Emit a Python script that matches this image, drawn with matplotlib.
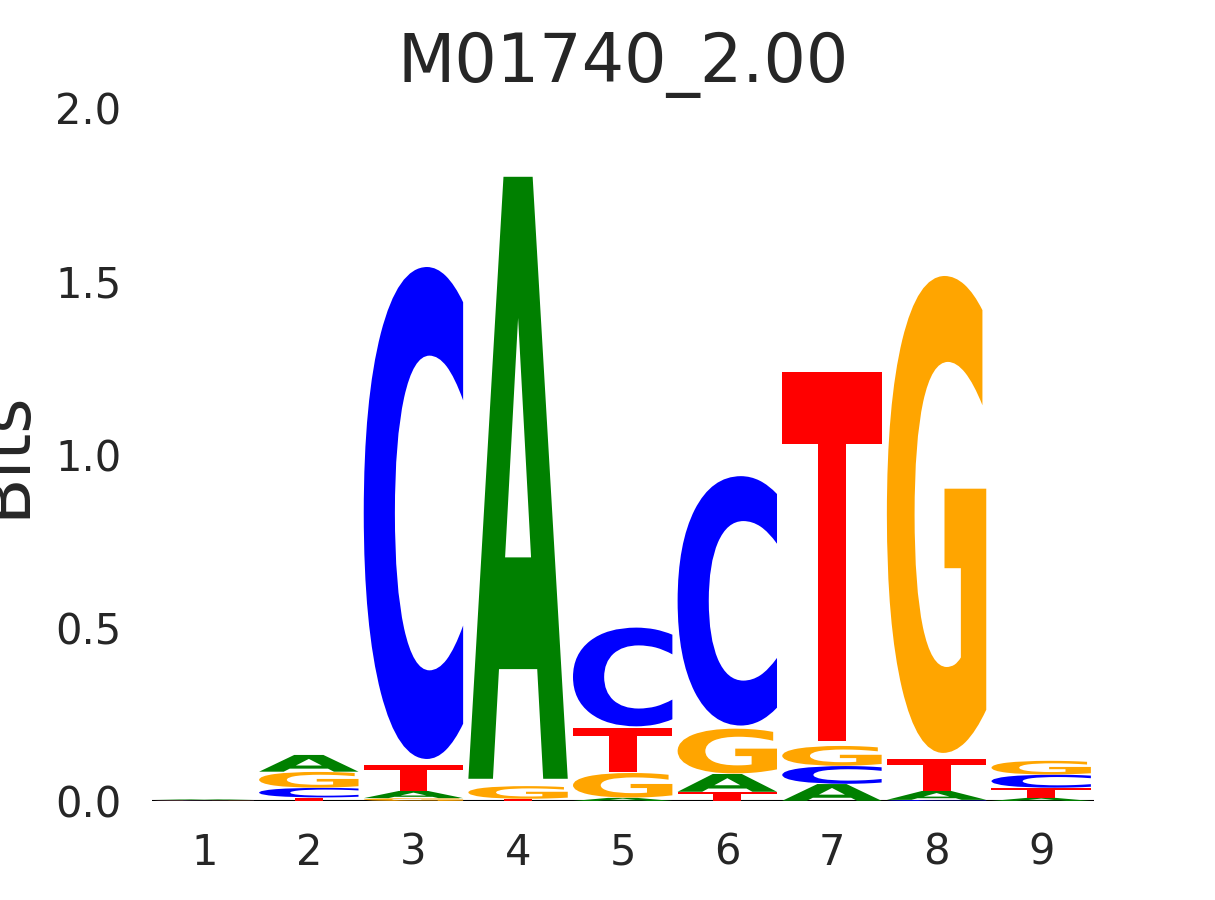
#!/usr/bin/env python3
'''
Sequence logo for motif M01740_2.00, drawn with TextPath glyphs.
'''

import numpy as np
import matplotlib.pyplot as plt
from matplotlib.textpath import TextPath
from matplotlib.patches import PathPatch
from matplotlib.font_manager import FontProperties
from matplotlib.transforms import Affine2D

## data: bits per letter at each position
positions = [1, 2, 3, 4, 5, 6, 7, 8, 9]
bits_A = [0.002, 0.049, 0.021, 1.762, 0.009, 0.052, 0.049, 0.026, 0.009]
bits_C = [0.001, 0.028, 1.440, 0.000, 0.289, 0.730, 0.052, 0.003, 0.038]
bits_G = [0.001, 0.046, 0.008, 0.037, 0.072, 0.131, 0.058, 1.396, 0.040]
bits_T = [0.001, 0.010, 0.075, 0.006, 0.131, 0.026, 1.082, 0.093, 0.029]

title = 'M01740_2.00'
ylabel = 'Bits'
yticks = [0.0, 0.5, 1.0, 1.5, 2.0]

colors = {'A': 'green', 'C': 'blue', 'G': 'orange', 'T': 'red'}
fp = FontProperties(family='DejaVu Sans', weight='bold')

plt.rcParams['font.family'] = ['DejaVu Sans']
text_color = '#262626'


def draw_glyph(ax, letter, x, y0, height, width=0.95, pad_bot=0.012, pad_top=0.002):
    if height <= 0:
        return
    path = TextPath((0, 0), letter, size=1, prop=fp)
    ext = path.get_extents()
    h = height * (1 - pad_bot - pad_top)
    tr = (Affine2D()
          .translate(-ext.x0, -ext.y0)
          .scale(width / ext.width, h / ext.height)
          .translate(x - width / 2, y0 + height * pad_bot))
    patch = PathPatch(tr.transform_path(path), facecolor=colors[letter],
                      edgecolor='none', linewidth=0)
    ax.add_patch(patch)


fig, ax = plt.subplots(figsize=(12.15, 9), dpi=100)

table = {'A': bits_A, 'C': bits_C, 'G': bits_G, 'T': bits_T}
for i, pos in enumerate(positions):
    vals = sorted(((table[l][i], l) for l in 'ACGT'))
    y = 0.0
    for h, l in vals:
        draw_glyph(ax, l, pos, y, h)
        y += h

ax.axhline(0, color='black', lw=1.5, zorder=0)

ax.set_xlim(0.5, 9.5)
ax.set_ylim(0, 2.0)
ax.set_xticks(positions)
ax.set_yticks(yticks)
ax.set_yticklabels(['%.1f' % v for v in yticks])
ax.tick_params(axis='both', length=0, pad=22, labelsize=30, labelcolor=text_color)
for s in ax.spines.values():
    s.set_visible(False)

ax.set_title(title, fontsize=48, color=text_color, pad=19)
ax.set_ylabel(ylabel, fontsize=49, color=text_color, labelpad=12)

plt.savefig('out.png', dpi=100)
